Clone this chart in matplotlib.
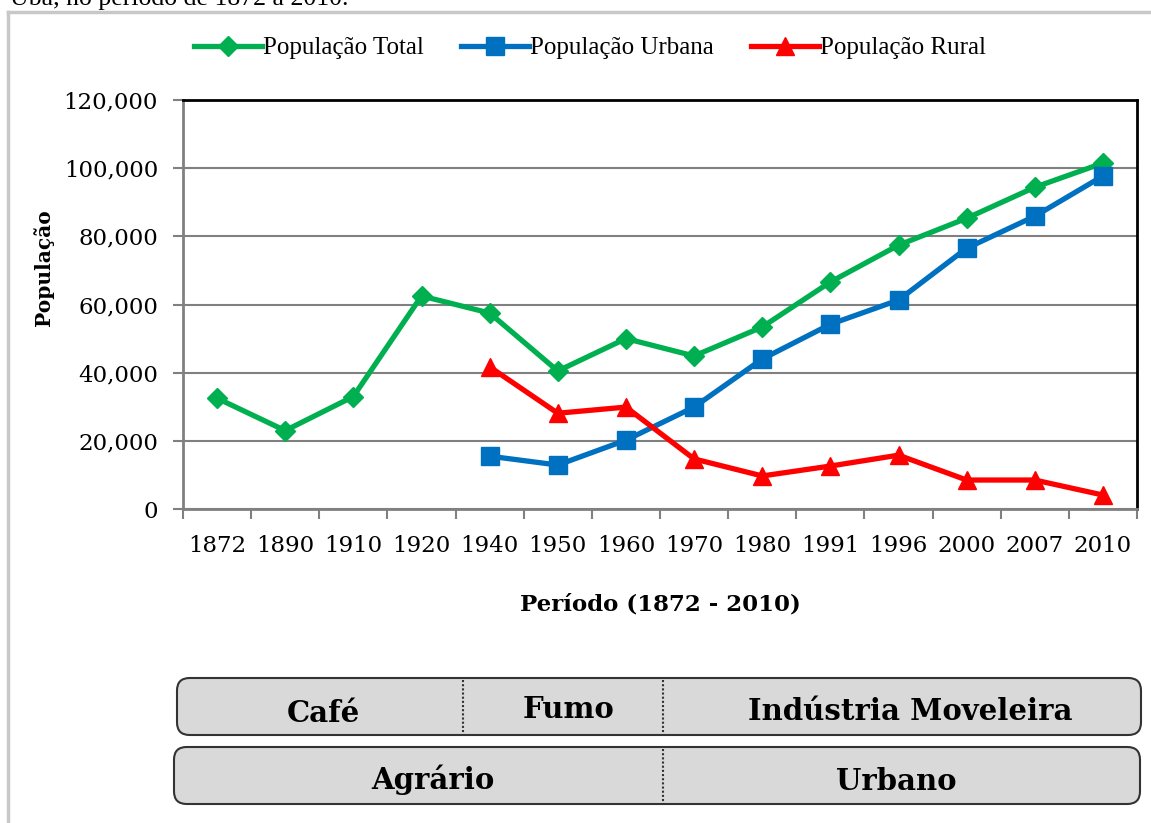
import matplotlib.pyplot as plt
from matplotlib.patches import FancyBboxPatch
from matplotlib.lines import Line2D

anos = ['1872', '1890', '1910', '1920', '1940', '1950', '1960',
        '1970', '1980', '1991', '1996', '2000', '2007', '2010']
total = [32500, 23000, 33000, 62500, 57500, 40500, 50000,
         44900, 53400, 66600, 77400, 85300, 94400, 101500]
# urbana e rural comecam em 1940
urbana = [15500, 12900, 20200, 29900, 44000, 54200, 61300, 76500, 85900, 97700]
rural = [41700, 28100, 29900, 14700, 9700, 12600, 15800, 8500, 8500, 4100]

serif = 'DejaVu Serif'
W, H = 1151, 823

fig = plt.figure(figsize=(W / 100, H / 100), dpi=100)
ax = fig.add_axes([183 / W, 1 - 509 / H, (1137 - 183) / W, (509 - 100) / H])

x_all = [i + 0.5 for i in range(len(anos))]
x_urb = x_all[4:]

ax.plot(x_all, total, color='#00b050', lw=3.8, marker='D', ms=10,
        label='População Total', zorder=3)
ax.plot(x_urb, urbana, color='#0070c0', lw=3.8, marker='s', ms=12.5,
        label='População Urbana', zorder=4)
ax.plot(x_urb, rural, color='#ff0000', lw=3.8, marker='^', ms=13,
        label='População Rural', zorder=5)

ax.set_xlim(0, len(anos))
ax.set_ylim(0, 120000)
ax.set_yticks(range(0, 120001, 20000))
ax.set_yticklabels([f'{v:,}' for v in range(0, 120001, 20000)],
                   fontfamily=serif, fontsize=16.5)
ax.set_xticks(range(len(anos) + 1))
ax.set_xticklabels([])
ax.set_xticks(x_all, minor=True)
ax.set_xticklabels(anos, minor=True, fontfamily=serif, fontsize=16.5)
ax.tick_params(axis='x', which='minor', length=0, pad=19)
ax.tick_params(axis='x', which='major', length=7, width=1.5, color='#808080', direction='out')
ax.tick_params(axis='y', length=7, width=1.5, color='#808080', pad=11)

ax.grid(axis='y', color='#808080', lw=1.5, zorder=0)
ax.set_axisbelow(True)
for s in ['left', 'bottom']:
    ax.spines[s].set_color('#808080')
    ax.spines[s].set_linewidth(2)
for s in ['top', 'right']:
    ax.spines[s].set_color('black')
    ax.spines[s].set_linewidth(2)

ax.set_ylabel('População', fontfamily=serif, fontweight='bold', fontsize=14.5)
ax.yaxis.set_label_coords(-0.135, 0.589)
ax.set_xlabel('Período (1872 - 2010)', fontfamily=serif, fontweight='bold',
              fontsize=16.5, labelpad=26)

fig.legend(loc='center', bbox_to_anchor=(590 / W, 1 - 48 / H), ncol=3, frameon=False,
           prop={'family': 'Liberation Serif', 'size': 18}, handlelength=2.7,
           handletextpad=0.05, columnspacing=1.5)

# moldura cinza
fig.add_artist(Line2D([8 / W, 1], [1 - 12 / H, 1 - 12 / H], color='#c8c8c8', lw=2.5))
fig.add_artist(Line2D([8 / W, 8 / W], [0, 1 - 12 / H], color='#c8c8c8', lw=2.5))

# titulo cortado no topo
fig.text(10 / W, 1 - 5 / H, 'Ubá, no período de 1872 a 2010.', fontfamily='Liberation Serif',
         fontsize=18.5, va='baseline', ha='left')

# caixas de periodos
def caixa(x0, x1, y0, y1):
    p = FancyBboxPatch((x0 / W, 1 - y1 / H), (x1 - x0) / W, (y1 - y0) / H,
                       boxstyle='round,pad=0,rounding_size=0.011',
                       transform=fig.transFigure, facecolor='#d9d9d9',
                       edgecolor='#333333', lw=1.5, mutation_aspect=W / H)
    fig.add_artist(p)

def divisor(x, y0, y1):
    fig.add_artist(Line2D([x / W, x / W], [1 - y0 / H, 1 - y1 / H],
                          color='#333333', lw=1.5, ls=(0, (1, 1))))

caixa(177, 1141, 678, 735)
divisor(463, 680, 733)
divisor(663, 680, 733)
caixa(174, 1140, 747, 804)
divisor(663, 749, 802)

rotulos = [('Café', 323, 714), ('Fumo', 568, 710), ('Indústria Moveleira', 910, 712),
           ('Agrário', 433, 780), ('Urbano', 896, 781)]
for txt, xx, yy in rotulos:
    fig.text(xx / W, 1 - yy / H, txt, fontfamily=serif, fontweight='bold',
             fontsize=21, ha='center', va='center')

fig.savefig('out.png', dpi=100)
